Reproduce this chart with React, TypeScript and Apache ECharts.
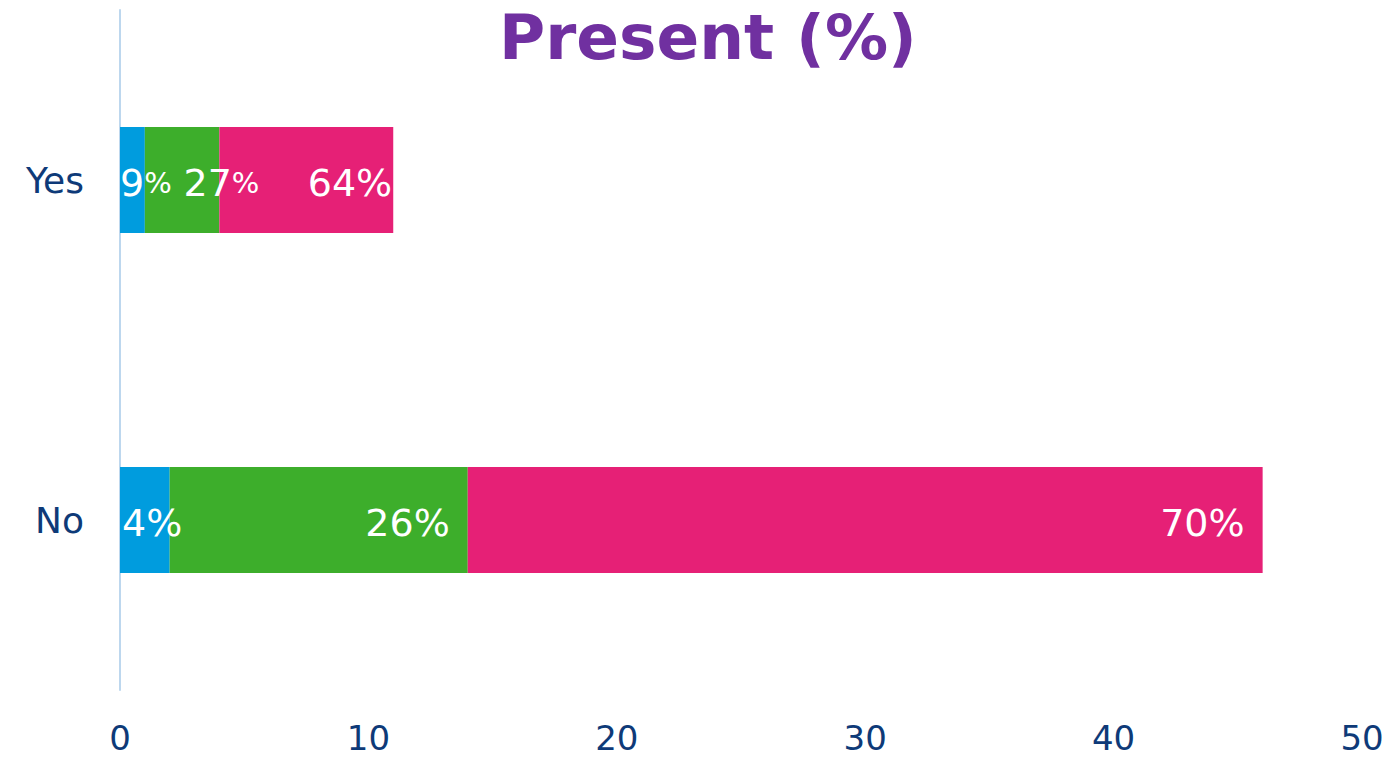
import React, { useEffect, useRef } from "react";
import * as echarts from "echarts";

const categories = ["Yes", "No"];
const blueValues = [1, 2];
const greenValues = [3, 12];
const pinkValues = [7, 32];
const xTicks = [0, 10, 20, 30, 40, 50];
const titleText = "Present (%)";

export default function App() {
  const ref = useRef<HTMLDivElement>(null);
  useEffect(() => {
    if (!ref.current) return;
    const chart = echarts.init(ref.current, undefined, { renderer: "svg" });
    const totals = categories.map((_, i) => blueValues[i] + greenValues[i] + pinkValues[i]);
    const pct = (v: number, i: number) => Math.round((v / totals[i]) * 100);
    const font = "DejaVu Sans, Verdana, sans-serif";
    const rich = {
      n: { fontSize: 38, color: "#fff", fontFamily: font },
      s: { fontSize: 29, color: "#fff", fontFamily: font },
    };
    // label placement per segment [series][category]
    const placement: any = [
      [
        { position: "insideLeft", distance: 0, small: true },
        { position: "insideLeft", distance: 2, small: false },
      ],
      [
        { position: "insideRight", distance: 0, offset: [40, 3], small: true },
        { position: "insideRight", distance: 18, small: false },
      ],
      [
        { position: "insideRight", distance: 1, small: false },
        { position: "insideRight", distance: 18, small: false },
      ],
    ];
    const makeData = (vals: number[], s: number) =>
      vals.map((v, i) => {
        const p = placement[s][i];
        const p100 = pct(v, i);
        return {
          value: v,
          label: {
            show: true,
            position: p.position,
            distance: p.distance,
            offset: p.offset || [0, 3],
            formatter: p.small ? `{n|${p100}}{s|%}` : `{n|${p100}%}`,
            rich,
          },
        };
      });
    const colors = ["#009CDE", "#3DAE2B", "#E62076"];
    const seriesVals = [blueValues, greenValues, pinkValues];
    chart.setOption({
      animation: false,
      title: {
        text: titleText,
        left: 499,
        top: 6,
        padding: 0,
        textStyle: { color: "#7030A0", fontSize: 63, lineHeight: 63, fontWeight: "bold", fontFamily: font },
      },
      grid: { left: 120, right: 36, top: 10, bottom: 69, containLabel: false },
      xAxis: {
        type: "value",
        min: xTicks[0],
        max: xTicks[xTicks.length - 1],
        interval: xTicks[1] - xTicks[0],
        axisLine: { show: false },
        axisTick: { show: false },
        splitLine: { show: false },
        axisLabel: { color: "#0E3A78", fontSize: 34, lineHeight: 34, fontFamily: font, margin: 31 },
      },
      yAxis: {
        type: "category",
        data: categories,
        inverse: true,
        axisLine: { show: true, lineStyle: { color: "#BDD7EE", width: 2 } },
        axisTick: { show: false },
        axisLabel: { color: "#0E3A78", fontSize: 36, fontFamily: font, margin: 36 },
      },
      series: seriesVals.map((vals, s) => ({
        type: "bar",
        stack: "total",
        barWidth: 106,
        itemStyle: { color: colors[s] },
        data: makeData(vals, s),
      })),
    });
    return () => chart.dispose();
  }, []);
  return <div ref={ref} style={{ width: 1398, height: 759, position: "absolute", left: 0, top: 0 }} />;
}
